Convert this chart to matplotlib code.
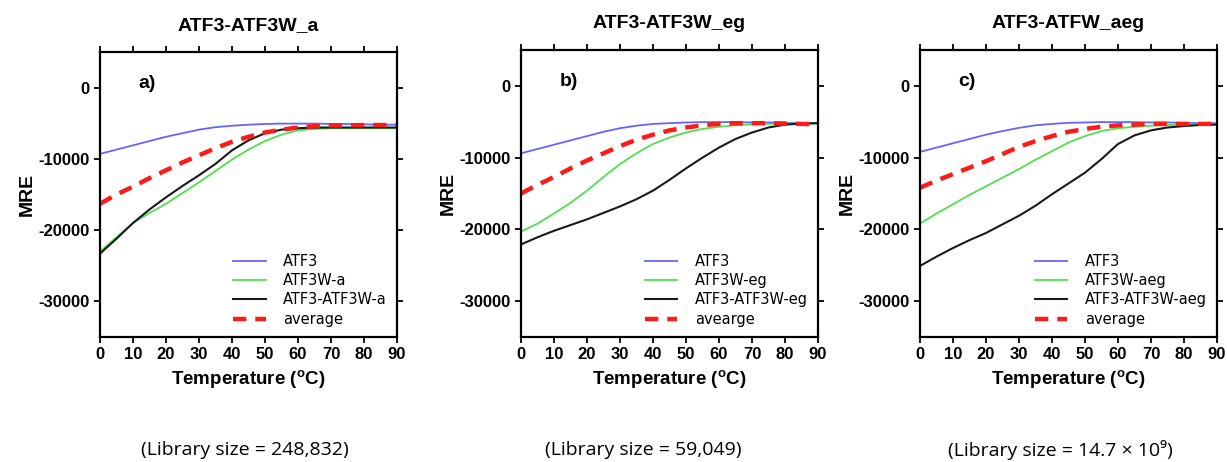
import numpy as np
import matplotlib.pyplot as plt

plt.rcParams['font.family'] = ['Liberation Sans', 'DejaVu Sans']
plt.rcParams['axes.unicode_minus'] = False

temp = np.arange(0, 95, 5)

# panel a
atf3_a = [-9300, -8700, -8100, -7500, -6900, -6400, -5900, -5550, -5350, -5200,
          -5100, -5050, -5050, -5050, -5100, -5100, -5150, -5200, -5200]
w_a = [-23000, -21000, -19000, -17600, -16300, -14800, -13300, -11700, -10100, -8700,
       -7500, -6600, -6000, -5800, -5700, -5700, -5700, -5700, -5700]
pair_a = [-23300, -21200, -19000, -17100, -15400, -13800, -12300, -10700, -8800, -7400,
          -6400, -5900, -5700, -5600, -5600, -5600, -5600, -5600, -5600]
avg_a = [-16300, -15000, -13900, -12700, -11600, -10500, -9500, -8500, -7600, -6900,
         -6300, -5900, -5600, -5400, -5300, -5300, -5250, -5250, -5250]

# panel b
atf3_b = [-9400, -8800, -8200, -7600, -7000, -6400, -5900, -5550, -5300, -5200,
          -5100, -5050, -5050, -5050, -5100, -5100, -5150, -5200, -5200]
w_b = [-20300, -19200, -17800, -16300, -14600, -12700, -10900, -9400, -8100, -7200,
       -6500, -6000, -5700, -5500, -5350, -5300, -5250, -5250, -5250]
pair_b = [-22100, -21100, -20200, -19400, -18600, -17700, -16800, -15800, -14600, -13100,
          -11500, -10000, -8600, -7400, -6500, -5800, -5400, -5250, -5200]
avg_b = [-15000, -13800, -12700, -11500, -10400, -9400, -8400, -7500, -6800, -6200,
         -5800, -5500, -5300, -5200, -5200, -5200, -5250, -5300, -5350]

# panel c
atf3_c = [-9200, -8600, -8000, -7400, -6800, -6300, -5850, -5500, -5300, -5150,
          -5100, -5050, -5050, -5050, -5100, -5100, -5150, -5200, -5200]
w_c = [-19200, -17800, -16500, -15200, -14000, -12800, -11600, -10300, -9100, -7900,
       -7000, -6300, -5900, -5700, -5550, -5450, -5400, -5350, -5300]
pair_c = [-25100, -23800, -22600, -21500, -20500, -19300, -18100, -16700, -15100, -13600,
          -12100, -10200, -8100, -6900, -6200, -5800, -5600, -5450, -5400]
avg_c = [-14200, -13200, -12300, -11400, -10500, -9500, -8500, -7700, -7000, -6400,
         -6000, -5700, -5500, -5400, -5300, -5300, -5300, -5300, -5300]

titles = ['ATF3-ATF3W_a', 'ATF3-ATF3W_eg', 'ATF3-ATFW_aeg']
tags = ['a)', 'b)', 'c)']
names = [['ATF3', 'ATF3W-a', 'ATF3-ATF3W-a', 'average'],
         ['ATF3', 'ATF3W-eg', 'ATF3-ATF3W-eg', 'avearge'],
         ['ATF3', 'ATF3W-aeg', 'ATF3-ATF3W-aeg', 'average']]
libsize = ['(Library size = 248,832)', '(Library size = 59,049)',
           '(Library size = 14.7 \u00d7 10\u2079)']
series = [(atf3_a, w_a, pair_a, avg_a),
          (atf3_b, w_b, pair_b, avg_b),
          (atf3_c, w_c, pair_c, avg_c)]

fig = plt.figure(figsize=(12.27, 4.62), dpi=100)
lefts = [100, 521, 920]
tops = [52, 50, 50]
for i in range(3):
    ax = fig.add_axes([lefts[i] / 1227, 1 - 337 / 462, 297 / 1227, (337 - tops[i]) / 462])
    s1, s2, s3, s4 = series[i]
    ax.plot(temp, s1, color='#6464ff', lw=1.3, label=names[i][0])
    ax.plot(temp, s2, color='#4fe04f', lw=1.3, label=names[i][1])
    ax.plot(temp, s3, color='#1a1a1a', lw=1.5, label=names[i][2])
    ax.plot(temp, s4, color='#ff1a1a', lw=3.2, ls=(0, (3, 2)), label=names[i][3])
    ax.set_xlim(0, 90)
    ax.set_ylim(-35000, 5000)
    ax.set_xticks(range(0, 91, 10))
    ax.set_yticks([0, -10000, -20000, -30000])
    ax.tick_params(direction='out', length=4, width=1.3, top=True, right=True,
                   labelsize=12)
    for lab in ax.get_xticklabels() + ax.get_yticklabels():
        lab.set_fontweight('bold')
    for sp in ax.spines.values():
        sp.set_linewidth(1.6)
    ax.set_title(titles[i], fontsize=14, fontweight='bold', pad=16)
    ax.set_xlabel('Temperature ($^\\mathregular{o}$C)', fontsize=13.5, fontweight='bold')
    ax.set_ylabel('MRE', fontsize=14, fontweight='bold', labelpad=2)
    ax.text(0.13, 0.875, tags[i], transform=ax.transAxes, fontsize=14, fontweight='bold')
    ax.legend(loc='lower right', frameon=False, handlelength=2.2, handletextpad=1.2,
              borderaxespad=0.3, labelspacing=0.3,
              prop={'family': 'DejaVu Sans', 'size': 10.5})
    fig.text([245, 643, 1060][i] / 1227, 1 - 450 / 462, libsize[i],
             ha='center', va='center', fontsize=14, family='Open Sans')

fig.savefig('out.png', dpi=100)
